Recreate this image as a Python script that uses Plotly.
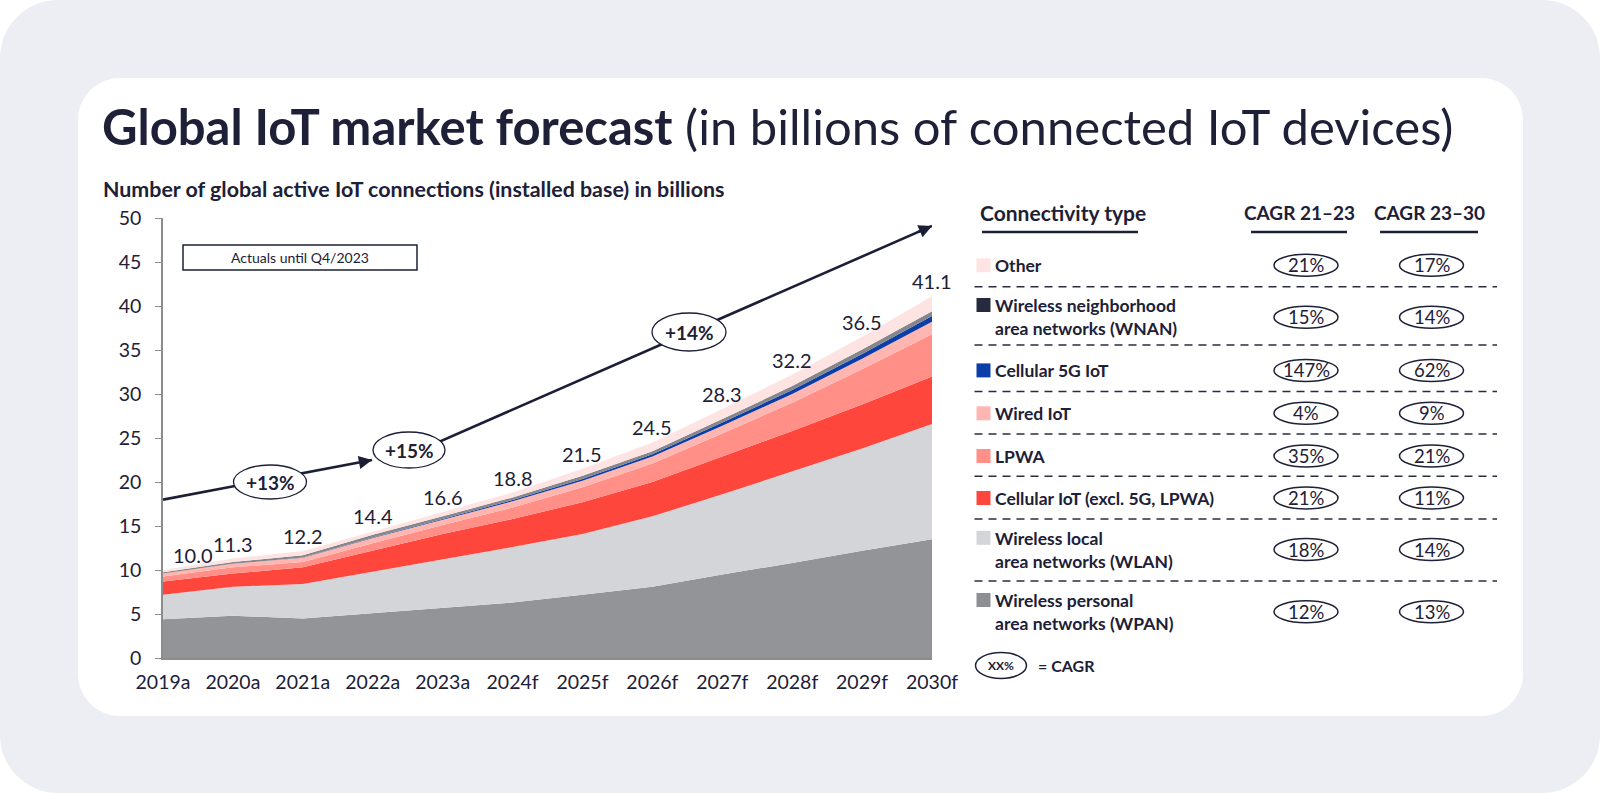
import plotly.graph_objects as go

# ---------------- data ----------------
years = ["2019a", "2020a", "2021a", "2022a", "2023a", "2024f",
         "2025f", "2026f", "2027f", "2028f", "2029f", "2030f"]
totals = [10.0, 11.3, 12.2, 14.4, 16.6, 18.8, 21.5, 24.5, 28.3, 32.2, 36.5, 41.1]

wpan     = [4.4, 4.8, 4.5, 5.1, 5.7, 6.3, 7.2, 8.1, 9.5, 10.8, 12.2, 13.5]
wlan     = [2.8, 3.3, 3.9, 4.7, 5.5, 6.3, 6.9, 8.0, 9.1, 10.4, 11.6, 13.1]
cellular = [1.5, 1.5, 1.9, 2.4, 2.9, 3.2, 3.6, 3.9, 4.3, 4.6, 5.0, 5.4]
lpwa     = [0.55, 0.7, 0.6, 0.85, 1.0, 1.3, 1.7, 2.1, 2.6, 3.2, 4.0, 4.8]
wired    = [0.35, 0.4, 0.5, 0.6, 0.6, 0.7, 0.75, 0.8, 0.9, 1.0, 1.2, 1.4]
cell5g   = [0.0, 0.0, 0.02, 0.05, 0.1, 0.15, 0.2, 0.25, 0.35, 0.45, 0.55, 0.65]
wnan     = [0.15, 0.2, 0.25, 0.3, 0.3, 0.3, 0.35, 0.35, 0.4, 0.45, 0.5, 0.55]
other    = [0.25, 0.4, 0.5, 0.4, 0.5, 0.55, 0.8, 1.0, 1.15, 1.3, 1.45, 1.7]

legend_names = ["Other", "Wireless neighborhood<br>area networks (WNAN)", "Cellular 5G IoT",
                "Wired IoT", "LPWA", "Cellular IoT (excl. 5G, LPWA)",
                "Wireless local<br>area networks (WLAN)", "Wireless personal<br>area networks (WPAN)"]
cagr_21_23 = ["21%", "15%", "147%", "4%", "35%", "21%", "18%", "12%"]
cagr_23_30 = ["17%", "14%", "62%", "9%", "21%", "11%", "14%", "13%"]

# CAGR arrows
arrow1 = dict(x0=0, y0=18.0, x1=2.99, y1=22.5)
arrow2 = dict(x0=3.5, y0=23.0, x1=11.0, y1=49.1)
cagr_labels = ["+13%", "+15%", "+14%"]

# ---------------- style ----------------
W, H = 1600, 793
ML, MR, MT, MB = 163, 668, 218, 135
PW, PH = W - ML - MR, H - MT - MB
TXT = "#1d2036"
FONT = "Lato"

layer_colors = {
    "wpan": "#939498", "wlan": "#d4d5d9", "cellular": "#ff463c", "lpwa": "#ff8f87",
    "wired": "#ffb5b0", "cell5g": "#0b3ea8", "wnan": "#86878c", "other": "#fde4e2",
}
swatch_colors = ["#fde4e2", "#262a3c", "#0b3ea8", "#ffb5b0", "#ff8f87", "#ff463c", "#d4d5d9", "#8e8f93"]


def px(xp):
    return (xp - ML) / PW


def py(yp):
    return (H - MB - yp) / PH


def rrect_path(x0, y0, x1, y1, r):
    k = 0.5523 * r
    pts = [
        ("M", [(x0 + r, y0)]),
        ("L", [(x1 - r, y0)]),
        ("C", [(x1 - r + k, y0), (x1, y0 + r - k), (x1, y0 + r)]),
        ("L", [(x1, y1 - r)]),
        ("C", [(x1, y1 - r + k), (x1 - r + k, y1), (x1 - r, y1)]),
        ("L", [(x0 + r, y1)]),
        ("C", [(x0 + r - k, y1), (x0, y1 - r + k), (x0, y1 - r)]),
        ("L", [(x0, y0 + r)]),
        ("C", [(x0, y0 + r - k), (x0 + r - k, y0), (x0 + r, y0)]),
    ]
    s = ""
    for cmd, ps in pts:
        s += cmd + " " + " ".join(f"{px(a):.5f},{py(b):.5f}" for a, b in ps) + " "
    return s + "Z"


def text_at(xp, yp, text, size, xanchor="center", yanchor="middle", align="center"):
    return dict(xref="paper", yref="paper", x=px(xp), y=py(yp), xanchor=xanchor, yanchor=yanchor,
                align=align, showarrow=False, text=text, font=dict(family=FONT, size=size, color=TXT))


fig = go.Figure()
xs = list(range(len(years)))
series = [("wpan", wpan), ("wlan", wlan), ("cellular", cellular), ("lpwa", lpwa),
          ("wired", wired), ("cell5g", cell5g), ("wnan", wnan), ("other", other)]
for key, vals in series:
    fig.add_trace(go.Scatter(
        x=xs, y=vals, stackgroup="one", mode="lines",
        line=dict(width=0, color=layer_colors[key]),
        fillcolor=layer_colors[key], hoverinfo="skip", showlegend=False))

shapes = []
annotations = []

# backgrounds
shapes.append(dict(type="path", xref="paper", yref="paper", layer="below",
                   path=rrect_path(0, 0, 1600, 793, 58), fillcolor="#eceef3", line=dict(width=0)))
shapes.append(dict(type="path", xref="paper", yref="paper", layer="below",
                   path=rrect_path(78, 78, 1523, 716, 42), fillcolor="#ffffff", line=dict(width=0)))

# title + subtitle
annotations.append(text_at(100, 126, "<b>Global IoT market forecast</b> (in billions of connected IoT devices)",
                           49, xanchor="left"))
annotations.append(text_at(101, 189, "<b>Number of global active IoT connections (installed base) in billions</b>",
                           21.4, xanchor="left"))

# actuals box
shapes.append(dict(type="rect", xref="paper", yref="paper", x0=px(183), x1=px(417), y0=py(245), y1=py(270),
                   line=dict(color=TXT, width=1.5), fillcolor="white", layer="above"))
annotations.append(text_at(300, 257.5, "Actuals until Q4/2023", 14))

# CAGR arrows (lines), arrowheads, ovals
ARC = "#1b1e35"
for a in (arrow1, arrow2):
    shapes.append(dict(type="line", xref="x", yref="y", x0=a["x0"], y0=a["y0"], x1=a["x1"], y1=a["y1"],
                       line=dict(color=ARC, width=2.6), layer="above"))
    f = 0.97
    annotations.append(dict(xref="x", yref="y", axref="x", ayref="y", x=a["x1"], y=a["y1"],
                            ax=a["x0"] + f * (a["x1"] - a["x0"]), ay=a["y0"] + f * (a["y1"] - a["y0"]),
                            text="", showarrow=True, arrowhead=2, arrowsize=1.1, arrowwidth=2.4,
                            arrowcolor=ARC, standoff=0, startstandoff=0))

ovals = [(270, 482, 73, 34), (409, 450, 72, 36), (689, 332, 74, 38)]
for (cx, cy, w, h), lab in zip(ovals, cagr_labels):
    shapes.append(dict(type="circle", xref="paper", yref="paper", x0=px(cx - w / 2), x1=px(cx + w / 2),
                       y0=py(cy + h / 2), y1=py(cy - h / 2), fillcolor="white",
                       line=dict(color=ARC, width=1.3), layer="above"))
    annotations.append(text_at(cx, cy, f"<b>{lab}</b>", 19))

# total labels
for i, t in enumerate(totals):
    annotations.append(dict(xref="x", yref="y", x=i, y=t, yshift=15, xshift=30 if i == 0 else 0,
                            showarrow=False, text=f"{t:.1f}", xanchor="center", yanchor="middle",
                            font=dict(family=FONT, size=20, color=TXT)))

# right-hand table
hdr_y = 212
annotations.append(text_at(1063, hdr_y, "<b>Connectivity type</b>", 21))
annotations.append(text_at(1299, hdr_y, "<b>CAGR 21–23</b>", 19))
annotations.append(text_at(1429, hdr_y, "<b>CAGR 23–30</b>", 19))
for x0, x1 in [(982, 1138), (1251, 1347), (1380, 1478)]:
    shapes.append(dict(type="line", xref="paper", yref="paper", x0=px(x0), x1=px(x1), y0=py(232), y1=py(232),
                       line=dict(color=TXT, width=2.5)))

row_text_y = [265.3, 317.3, 370.4, 413.3, 456, 498, 549.5, 611.7]
row_swatch_y = [265.3, 305, 370.4, 413.3, 456, 498, 537.8, 600]
dash_y = [286.7, 345, 391.5, 434, 476.3, 519, 581]
for name, ty, sy, col, c1, c2 in zip(legend_names, row_text_y, row_swatch_y, swatch_colors,
                                     cagr_21_23, cagr_23_30):
    shapes.append(dict(type="rect", xref="paper", yref="paper", x0=px(976.5), x1=px(990.5),
                       y0=py(sy + 7), y1=py(sy - 7), fillcolor=col, line=dict(width=0)))
    annotations.append(text_at(993, ty, f"<b>{name}</b>", 17.5, xanchor="left", align="left"))
    for cx, txt in [(1306, c1), (1431.5, c2)]:
        shapes.append(dict(type="circle", xref="paper", yref="paper", x0=px(cx - 32), x1=px(cx + 32),
                           y0=py(ty + 11), y1=py(ty - 11), line=dict(color=TXT, width=1.5)))
        annotations.append(text_at(cx, ty, txt, 18.5))
for dy in dash_y:
    shapes.append(dict(type="line", xref="paper", yref="paper", x0=px(974.5), x1=px(1497), y0=py(dy), y1=py(dy),
                       line=dict(color="#2a2d40", width=1.5, dash="8px,6px")))

# CAGR key
shapes.append(dict(type="circle", xref="paper", yref="paper", x0=px(975.5), x1=px(1026.5),
                   y0=py(678.5), y1=py(652.5), line=dict(color=TXT, width=1.5)))
annotations.append(text_at(1001, 665.5, "<b>XX%</b>", 12))
annotations.append(text_at(1036, 665.5, "<b>= CAGR</b>", 16, xanchor="left"))

fig.update_layout(
    width=W, height=H, margin=dict(l=ML, r=MR, t=MT, b=MB, autoexpand=False),
    paper_bgcolor="white", plot_bgcolor="rgba(0,0,0,0)",
    shapes=shapes, annotations=annotations, showlegend=False,
    font=dict(family=FONT, color=TXT),
    xaxis=dict(range=[0, 11], tickvals=xs, ticktext=years, showgrid=False, zeroline=False,
               showline=True, linecolor="#8c8c8c", linewidth=1.5, ticks="",
               tickfont=dict(family=FONT, size=19.5, color=TXT), ticklabelstandoff=6, fixedrange=True),
    yaxis=dict(range=[0, 50], dtick=5, showgrid=False, zeroline=False, showline=True,
               linecolor="#8c8c8c", linewidth=1.5, ticks="outside", ticklen=6, tickcolor="#8c8c8c",
               tickwidth=1.2, tickfont=dict(family=FONT, size=19.5, color=TXT), ticklabelstandoff=10,
               fixedrange=True),
)

fig.write_html("out.html")
